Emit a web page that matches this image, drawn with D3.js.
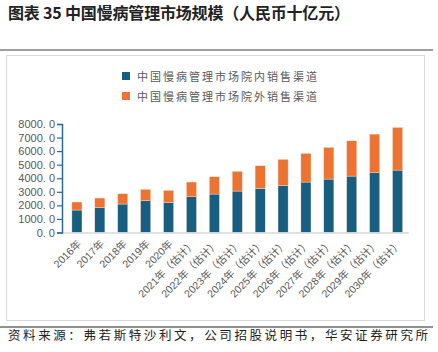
<!DOCTYPE html>
<html>
<head>
<meta charset="utf-8">
<script src="https://cdn.jsdelivr.net/npm/d3@7"></script>
<style>
  body { margin: 0; background: #fff; }
  svg { display: block; }
</style>
</head>
<body>
<script>
// chart data
const years = ["2016年", "2017年", "2018年", "2019年", "2020年",
  "2021年（估计）", "2022年（估计）", "2023年（估计）", "2024年（估计）", "2025年（估计）",
  "2026年（估计）", "2027年（估计）", "2028年（估计）", "2029年（估计）", "2030年（估计）"];
const inHospital = [1657, 1856, 2099, 2342, 2194, 2636, 2835, 3056, 3255, 3476, 3719, 3940, 4160, 4404, 4602];
const outHospital = [589, 684, 758, 839, 913, 1083, 1274, 1451, 1664, 1914, 2113, 2334, 2600, 2849, 3145];
const seriesNames = ["中国慢病管理市场院内销售渠道", "中国慢病管理市场院外销售渠道"];
const yTicks = [0, 1000, 2000, 3000, 4000, 5000, 6000, 7000, 8000];

const W = 438, H = 352;
const colours = ["#175e80", "#ec7331"];
const cjk = "'Noto Sans CJK SC', sans-serif";
const latin = "'Liberation Sans', Arial, 'Noto Sans CJK SC', sans-serif";

const svg = d3.select("body").append("svg")
  .attr("width", W).attr("height", H);

// title
svg.append("text")
  .attr("x", 8).attr("y", 19)
  .attr("font-family", cjk).attr("font-size", 16).attr("font-weight", "bold")
  .attr("fill", "#222")
  .attr("textLength", 342).attr("lengthAdjust", "spacing")
  .text("图表 35 中国慢病管理市场规模（人民币十亿元）");

// header rule and frame
svg.append("line").attr("x1", 0).attr("x2", 433).attr("y1", 50).attr("y2", 50)
  .attr("stroke", "#7f7f7f").attr("stroke-width", 1.5);
svg.append("rect").attr("x", 6.5).attr("y", 55.5).attr("width", 418).attr("height", 265)
  .attr("fill", "none").attr("stroke", "#d9d9d9");
svg.append("line").attr("x1", 0).attr("x2", 433).attr("y1", 327).attr("y2", 327)
  .attr("stroke", "#222").attr("stroke-width", 1);

// source
svg.append("text")
  .attr("x", 8).attr("y", 340)
  .attr("font-family", cjk).attr("font-size", 12.5)
  .attr("fill", "#222")
  .attr("textLength", 420).attr("lengthAdjust", "spacing")
  .text("资料来源：弗若斯特沙利文，公司招股说明书，华安证券研究所");

// scales
const x = d3.scaleBand().domain(years).range([65.5, 409]).paddingInner(0.56).paddingOuter(0.28);
const y = d3.scaleLinear().domain([0, 8000]).range([232.5, 124]);

// stacked data
const rows = years.map((yr, i) => ({ year: yr, a: inHospital[i], b: outHospital[i] }));
const stacked = d3.stack().keys(["a", "b"])(rows);

svg.append("g").selectAll("g")
  .data(stacked)
  .join("g")
  .attr("fill", (d, i) => colours[i])
  .selectAll("rect")
  .data(d => d)
  .join("rect")
  .attr("x", d => x(d.data.year))
  .attr("width", x.bandwidth())
  .attr("y", d => y(d[1]))
  .attr("height", d => y(d[0]) - y(d[1]))
  .attr("stroke", "#fbe3d6").attr("stroke-width", 0.4);

// x baseline
svg.append("line").attr("x1", 62).attr("x2", 409)
  .attr("y1", y(0) + 0.5).attr("y2", y(0) + 0.5)
  .attr("stroke", "#d9d9d9").attr("stroke-width", 1.5);

// y axis
const yAxis = svg.append("g")
  .attr("transform", "translate(62,0)")
  .call(d3.axisLeft(y).tickValues(yTicks).tickSize(5).tickPadding(2)
    .tickFormat(d => d3.format(".1f")(d).replace(".", ". ")));
yAxis.select(".domain").attr("stroke", "#2c6a8e").attr("stroke-width", 1.5);
yAxis.selectAll(".tick line").attr("stroke", "#2c6a8e").attr("stroke-width", 1.2);
yAxis.selectAll(".tick text")
  .attr("font-family", latin).attr("font-size", 11).attr("fill", "#595959");

// x labels
svg.append("g").selectAll("text")
  .data(years)
  .join("text")
  .attr("transform", d => `translate(${x(d) + x.bandwidth() / 2 + 5},${y(0) + 12}) rotate(-45)`)
  .attr("text-anchor", "end")
  .attr("font-family", latin).attr("font-size", 10.5).attr("fill", "#595959")
  .text(d => d);

// legend
const legend = svg.append("g").selectAll("g")
  .data(seriesNames)
  .join("g")
  .attr("transform", (d, i) => `translate(122,${72 + i * 20})`);
legend.append("rect").attr("width", 8).attr("height", 8)
  .attr("fill", (d, i) => colours[i]);
legend.append("text")
  .attr("x", 15).attr("y", 8.5)
  .attr("font-family", cjk).attr("font-size", 11)
  .attr("fill", "#595959")
  .attr("textLength", 180).attr("lengthAdjust", "spacing")
  .text(d => d);
</script>
</body>
</html>
